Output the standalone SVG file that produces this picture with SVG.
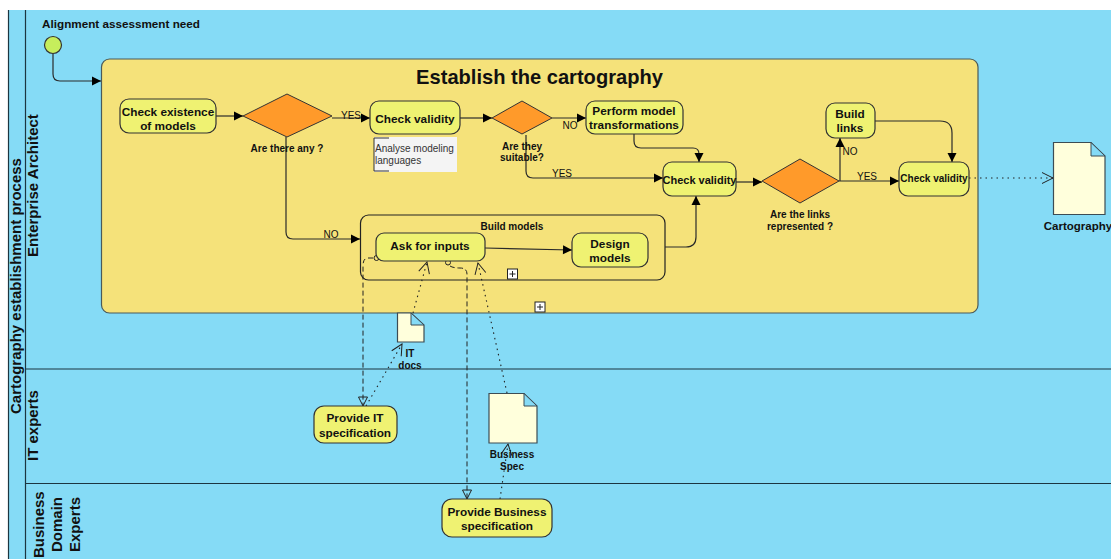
<svg xmlns="http://www.w3.org/2000/svg" width="1111" height="559" viewBox="0 0 1111 559">
<style>
text{font-family:"Liberation Sans",Arial,sans-serif;fill:#111;text-anchor:middle}
.b{font-weight:bold}
.t{font-size:11.8px;font-weight:bold}
.s{font-size:10px;font-weight:bold}
.l{font-size:10px}
.lane{font-size:15px;font-weight:bold;text-anchor:start}
.task{fill:#eff272;stroke:#333;stroke-width:1.2}
.gw{fill:#ff9a2a;stroke:#333;stroke-width:1}
.doc{fill:#ffffdc;stroke:#3c4c54;stroke-width:1.2}
.fold{fill:#85dbf6;stroke:#3c4c54;stroke-width:1}
.flow{fill:none;stroke:#2a2a2a;stroke-width:1.2;marker-end:url(#fill)}
.dash{fill:none;stroke:#222;stroke-width:1;stroke-dasharray:5 3;marker-end:url(#tri)}
.dot{fill:none;stroke:#222;stroke-width:1.1;stroke-dasharray:1.5 4;marker-end:url(#open)}
.sep{stroke:#1c3540;stroke-width:1.2;fill:none}
.plus{fill:#fff;stroke:#222;stroke-width:1}
</style>
<defs>
<marker id="fill" markerUnits="userSpaceOnUse" markerWidth="12" markerHeight="12" refX="10" refY="6" orient="auto"><path d="M1 1.500L10 6L1 10.500Z" fill="#000"/></marker>
<marker id="tri" markerUnits="userSpaceOnUse" markerWidth="12" markerHeight="12" refX="10" refY="6" orient="auto"><path d="M1 1.500L10 6L1 10.500Z" fill="none" stroke="#222" stroke-width="1"/></marker>
<marker id="open" markerUnits="userSpaceOnUse" markerWidth="13" markerHeight="14" refX="12" refY="7" orient="auto"><path d="M1 1.500L12 7L1 12.500" fill="none" stroke="#222" stroke-width="1"/></marker>
</defs>
<rect width="1111" height="559" fill="#fff"/>
<rect x="8" y="10" width="1103" height="549" fill="#85dbf6"/>
<g id="pool">
<path class="sep" d="M8.500 10V559M25.500 10V559M25 369H1111M25 483.500H1111"/>
<text class="lane" transform="translate(21 414) rotate(-90)">Cartography establishment process</text>
<text class="lane" transform="translate(38 257) rotate(-90)">Enterprise Architect</text>
<text class="lane" transform="translate(38 461) rotate(-90)">IT experts</text>
<text class="lane" transform="translate(44 558) rotate(-90)">Business</text>
<text class="lane" transform="translate(62 552) rotate(-90)">Domain</text>
<text class="lane" transform="translate(80 552) rotate(-90)">Experts</text>
</g>
<g id="start"><circle cx="53" cy="45" r="8.500" fill="#c6ee5c" stroke="#333" stroke-width="1.200"/><text class="s" x="121" y="28" style="font-size:11.7px">Alignment assessment need</text></g>
<g id="establish">
<rect x="101.500" y="59" width="876.500" height="254" rx="8" fill="#f5e27a" stroke="#4a5a5a" stroke-width="1.200"/>
<text class="b" x="539.500" y="84" font-size="20.100">Establish the cartography</text>
<rect class="plus" x="535" y="302" width="10" height="10"/><path d="M540 304V310M537 307H543" stroke="#222"/>
</g>
<g id="build-models">
<rect x="360.500" y="215" width="304.500" height="65" rx="8" fill="none" stroke="#222" stroke-width="1.200"/>
<text class="s" x="512" y="230">Build models</text>
<rect class="plus" x="507.500" y="269" width="10" height="10"/><path d="M512.500 271V277M509.500 274H515.500" stroke="#222"/>
</g>
<g id="connectors">
<path class="flow" d="M53 54V74Q53 81 60 81H101"/>
<path class="flow" d="M216 116H243"/>
<path class="flow" d="M332 118H370"/>
<path class="flow" d="M286 137V232Q286 239 293 239H360"/>
<path class="flow" d="M460 118H492"/>
<path class="flow" d="M552 118H586"/>
<path class="flow" d="M526 135V171Q526 178 533 178H663"/>
<path class="flow" d="M634 134V141Q634 148 641 148H693Q699 148 699 154V162"/>
<path class="flow" d="M665 247H686Q696 247 696 237V196"/>
<path class="flow" d="M485 248L572 250"/>
<path class="flow" d="M736 182H762"/>
<path class="flow" d="M840 181V138"/>
<path class="flow" d="M839 181H899"/>
<path class="flow" d="M875 121H940Q952 121 952 133V162"/>
<path class="dash" d="M373 258H368Q363 258 363 266V406"/>
<path class="dash" d="M450 266Q453 268 460 268Q467 268 467 274V499"/>
<circle cx="376.500" cy="258" r="2.500" fill="none" stroke="#222"/>
<circle cx="448" cy="262.500" r="2.500" fill="none" stroke="#222"/>
<path class="dot" d="M366 406L402 344"/>
<path class="dot" d="M413 313L427 262"/>
<path class="dot" d="M507 393L478 263"/>
<path class="dot" d="M500 499L508 444"/>
<path class="dot" d="M969 178H1053"/>
<text class="l" x="351" y="119">YES</text>
<text class="l" x="331" y="238">NO</text>
<text class="l" x="570" y="129">NO</text>
<text class="l" x="562" y="177">YES</text>
<text class="l" x="850" y="155">NO</text>
<text class="l" x="867" y="180">YES</text>
</g>
<g id="check-existence"><rect class="task" x="120" y="99" width="96" height="34" rx="9"/><text class="t" x="168" y="116">Check existence</text><text class="t" x="168" y="130">of models</text></g>
<g id="gw-any"><path class="gw" d="M243 116L287 94L332 116L287 137Z"/><text class="s" x="287" y="152">Are there any ?</text></g>
<g id="check-validity-1"><rect class="task" x="370" y="101" width="90" height="33" rx="9"/><text class="t" x="415" y="123">Check validity</text></g>
<g id="note"><rect x="374" y="137" width="83" height="35" fill="#f4f4f4"/><path d="M389 138H374V171H389" fill="none" stroke="#333"/><text class="l" x="375" y="152" style="text-anchor:start;fill:#333">Analyse modeling</text><text class="l" x="375" y="164" style="text-anchor:start;fill:#333">languages</text></g>
<g id="gw-suitable"><path class="gw" d="M492 118L522 101L552 118L522 134Z"/><text class="s" x="522" y="150">Are they</text><text class="s" x="522" y="161">suitable?</text></g>
<g id="perform"><rect class="task" x="586" y="101" width="97" height="33" rx="9"/><text class="t" x="634" y="115">Perform model</text><text class="t" x="634" y="129">transformations</text></g>
<g id="check-validity-2"><rect class="task" x="663" y="162" width="73" height="34" rx="9"/><text class="s" x="699.500" y="184" style="font-size:11px">Check validity</text></g>
<g id="ask"><rect class="task" x="376" y="233" width="109" height="28" rx="8"/><text class="t" x="430" y="250">Ask for inputs</text></g>
<g id="design"><rect class="task" x="572" y="233" width="76" height="34" rx="9"/><text class="t" x="610" y="248">Design</text><text class="t" x="610" y="262">models</text></g>
<g id="gw-links"><path class="gw" d="M762 181L800 159L839 181L800 203Z"/><text class="s" x="800" y="218">Are the links</text><text class="s" x="800" y="230">represented ?</text></g>
<g id="build-links"><rect class="task" x="826" y="103" width="49" height="35" rx="9"/><text class="t" x="850" y="118">Build</text><text class="t" x="850" y="132">links</text></g>
<g id="check-validity-3"><rect class="task" x="899" y="162" width="70" height="34" rx="9"/><text class="s" x="934" y="182">Check validity</text></g>
<g id="cartography"><path class="doc" d="M1053.500 142.500H1091L1105 156V214.500H1053.500Z"/><path class="fold" d="M1091 142.500L1105 156H1091Z"/><text class="s" x="1078" y="230" style="font-size:11.500px">Cartography</text></g>
<g id="it-docs"><path class="doc" d="M397.500 313H411L424 325V342H397.500Z"/><path class="fold" d="M411 313L424 325H411Z"/><text class="s" x="410" y="357">IT</text><text class="s" x="410" y="369">docs</text></g>
<g id="provide-it"><rect class="task" x="314" y="406" width="83" height="37" rx="10"/><text class="t" x="355" y="422">Provide IT</text><text class="t" x="355" y="437">specification</text></g>
<g id="business-spec"><path class="doc" d="M489 393.500H524L537 406V443H489Z"/><path class="fold" d="M524 393.500L537 406H524Z"/><text class="s" x="512" y="458">Business</text><text class="s" x="512" y="470">Spec</text></g>
<g id="provide-business"><rect class="task" x="442" y="499" width="110" height="38" rx="10"/><text class="t" x="497" y="516">Provide Business</text><text class="t" x="497" y="530">specification</text></g>
</svg>
